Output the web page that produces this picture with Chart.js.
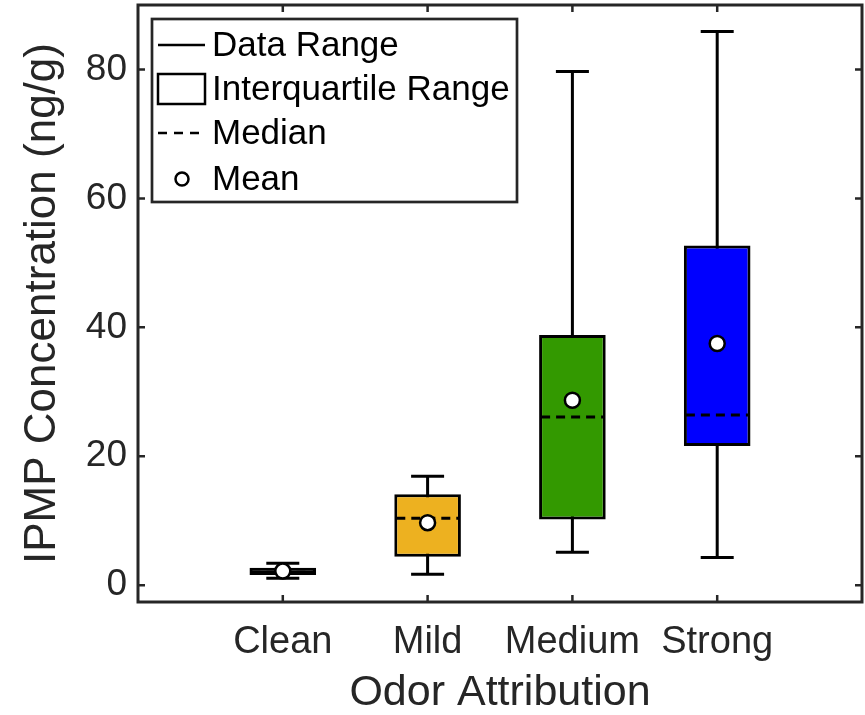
<!DOCTYPE html>
<html>
<head>
<meta charset="utf-8">
<script src="https://cdn.jsdelivr.net/npm/chart.js@4"></script>
<style>
  html, body { margin: 0; padding: 0; background: #fff; }
  #wrap { width: 865px; height: 715px; }
</style>
</head>
<body>
<div id="wrap"><canvas id="boxChart" width="865" height="715"></canvas></div>
<script>
// Box plot data (ng/g)
const categories = ['Clean', 'Mild', 'Medium', 'Strong'];
const minVals = [1.1, 1.7, 5.1, 4.3];
const q1Vals = [1.6, 4.4, 10.2, 21.6];
const medianVals = [2.0, 10.4, 26.1, 26.4];
const q3Vals = [2.7, 14.1, 38.8, 52.7];
const maxVals = [3.4, 16.9, 79.7, 85.9];
const meanVals = [2.2, 9.7, 28.7, 37.5];
const boxColors = ['#000000', '#EDB120', '#339900', '#0000FF'];
const yTicks = [0, 20, 40, 60, 80];

const axisColor = '#262626';
Chart.defaults.font.family = "'Liberation Sans', Arial, sans-serif";
Chart.defaults.color = axisColor;

// whiskers under the boxes, medians on top of them
const boxPlotExtras = {
  id: 'boxPlotExtras',
  beforeDatasetsDraw(chart) {
    const ctx = chart.ctx;
    const xs = chart.scales.x, ys = chart.scales.y;
    ctx.save();
    ctx.strokeStyle = '#000';
    ctx.lineWidth = 3;
    categories.forEach((c, i) => {
      const x = xs.getPixelForValue(i + 1);
      const yMin = ys.getPixelForValue(minVals[i]);
      const yMax = ys.getPixelForValue(maxVals[i]);
      const capHalf = 16.5;
      ctx.beginPath();
      ctx.moveTo(x, yMin); ctx.lineTo(x, yMax);
      ctx.moveTo(x - capHalf, yMin); ctx.lineTo(x + capHalf, yMin);
      ctx.moveTo(x - capHalf, yMax); ctx.lineTo(x + capHalf, yMax);
      ctx.stroke();
    });
    ctx.restore();
  },
  afterDatasetDraw(chart, args) {
    if (chart.data.datasets[args.index].label !== 'Interquartile Range') return;
    const ctx = chart.ctx;
    const ys = chart.scales.y;
    ctx.save();
    ctx.strokeStyle = '#000';
    ctx.lineWidth = 3;
    ctx.setLineDash([9, 6]);
    args.meta.data.forEach((bar, i) => {
      const y = ys.getPixelForValue(medianVals[i]);
      ctx.beginPath();
      ctx.moveTo(bar.x - bar.width / 2 + 2, y);
      ctx.lineTo(bar.x + bar.width / 2 - 2, y);
      ctx.stroke();
    });
    ctx.restore();
  },
  afterDatasetsDraw(chart) {
    // axes box with inward ticks (MATLAB style)
    const ctx = chart.ctx;
    const a = chart.chartArea;
    const xs = chart.scales.x, ys = chart.scales.y;
    const tl = 7;
    ctx.save();
    ctx.strokeStyle = axisColor;
    ctx.lineWidth = 3;
    ctx.strokeRect(a.left, a.top, a.right - a.left, a.bottom - a.top);
    ctx.lineWidth = 2.5;
    ctx.beginPath();
    yTicks.forEach(v => {
      const y = ys.getPixelForValue(v);
      ctx.moveTo(a.left, y); ctx.lineTo(a.left + tl, y);
      ctx.moveTo(a.right, y); ctx.lineTo(a.right - tl, y);
    });
    categories.forEach((c, i) => {
      const x = xs.getPixelForValue(i + 1);
      ctx.moveTo(x, a.bottom); ctx.lineTo(x, a.bottom - tl);
      ctx.moveTo(x, a.top); ctx.lineTo(x, a.top + tl);
    });
    ctx.stroke();
    ctx.restore();
  },
  afterDraw(chart) {
    // legend box in the upper left corner
    const ctx = chart.ctx;
    const a = chart.chartArea;
    const L = a.left + 14, T = a.top + 14, W = 365, H = 183;
    ctx.save();
    ctx.fillStyle = '#fff';
    ctx.fillRect(L, T, W, H);
    ctx.strokeStyle = axisColor;
    ctx.lineWidth = 2.7;
    ctx.strokeRect(L, T, W, H);

    const sx0 = L + 6, sx1 = L + 53, tx = L + 60;
    const rows = [T + 26, T + 70, T + 114, T + 160];
    ctx.strokeStyle = '#000';
    ctx.lineWidth = 2.5;
    // data range
    ctx.beginPath(); ctx.moveTo(sx0, rows[0]); ctx.lineTo(sx1, rows[0]); ctx.stroke();
    // interquartile range
    ctx.strokeRect(sx0, rows[1] - 15, sx1 - sx0, 30);
    // median
    ctx.setLineDash([9, 7]);
    ctx.beginPath(); ctx.moveTo(sx0, rows[2]); ctx.lineTo(sx1, rows[2]); ctx.stroke();
    ctx.setLineDash([]);
    // mean
    ctx.beginPath(); ctx.arc(L + 30, rows[3], 6.5, 0, Math.PI * 2);
    ctx.fillStyle = '#fff'; ctx.fill(); ctx.stroke();

    ctx.fillStyle = '#000';
    ctx.font = "35px 'Liberation Sans', Arial, sans-serif";
    ctx.textBaseline = 'middle';
    ctx.textAlign = 'left';
    ['Data Range', 'Interquartile Range', 'Median', 'Mean'].forEach((t, i) => {
      ctx.fillText(t, tx, rows[i] + 1);
    });
    ctx.restore();
  }
};

const ctx = document.getElementById('boxChart').getContext('2d');
const boxChart = new Chart(ctx, {
  type: 'bar',
  data: {
    datasets: [
      {
        type: 'line',
        label: 'Mean',
        data: categories.map((c, i) => ({ x: i + 1, y: meanVals[i] })),
        showLine: false,
        pointRadius: 7.5,
        pointBackgroundColor: '#fff',
        pointBorderColor: '#000',
        pointBorderWidth: 2.5,
        order: 0,
      },
      {
        label: 'Interquartile Range',
        data: categories.map((c, i) => ({ x: i + 1, y: [q1Vals[i], q3Vals[i]] })),
        backgroundColor: boxColors,
        borderColor: '#000',
        borderWidth: 3,
        borderSkipped: false,
        barPercentage: 0.46,
        categoryPercentage: 1,
        order: 1,
      },
    ],
  },
  options: {
    responsive: false,
    animation: false,
    layout: { autoPadding: false, padding: { left: 0, top: 5, right: 3, bottom: 0 } },
    plugins: {
      legend: { display: false },
      tooltip: { enabled: false },
    },
    scales: {
      x: {
        type: 'linear',
        min: 0,
        max: 5,
        offset: false,
        afterBuildTicks: scale => {
          scale.ticks = categories.map((c, i) => ({ value: i + 1 }));
        },
        afterFit: scale => {
          scale.height = 113;
          scale.paddingLeft = 0;
          scale.paddingRight = 0;
        },
        grid: { display: false, drawTicks: false },
        border: { display: false },
        ticks: {
          autoSkip: false,
          maxRotation: 0,
          padding: 18,
          color: axisColor,
          font: { size: 38 },
          callback: v => categories[v - 1],
        },
        title: {
          display: true,
          text: 'Odor Attribution',
          color: axisColor,
          font: { size: 43, lineHeight: 1 },
          padding: { top: 0, bottom: 0 },
        },
      },
      y: {
        min: -2.6,
        max: 90,
        afterBuildTicks: scale => {
          scale.ticks = yTicks.map(v => ({ value: v }));
        },
        afterFit: scale => {
          scale.width = 138;
          scale.paddingTop = 0;
          scale.paddingBottom = 0;
        },
        grid: { display: false, drawTicks: false },
        border: { display: false },
        ticks: {
          padding: 11,
          color: axisColor,
          font: { size: 37 },
        },
        title: {
          display: true,
          text: 'IPMP Concentration (ng/g)',
          color: axisColor,
          font: { size: 44, lineHeight: 1 },
          padding: { top: 21, bottom: 0 },
        },
      },
    },
  },
  plugins: [boxPlotExtras],
});
</script>
</body>
</html>
